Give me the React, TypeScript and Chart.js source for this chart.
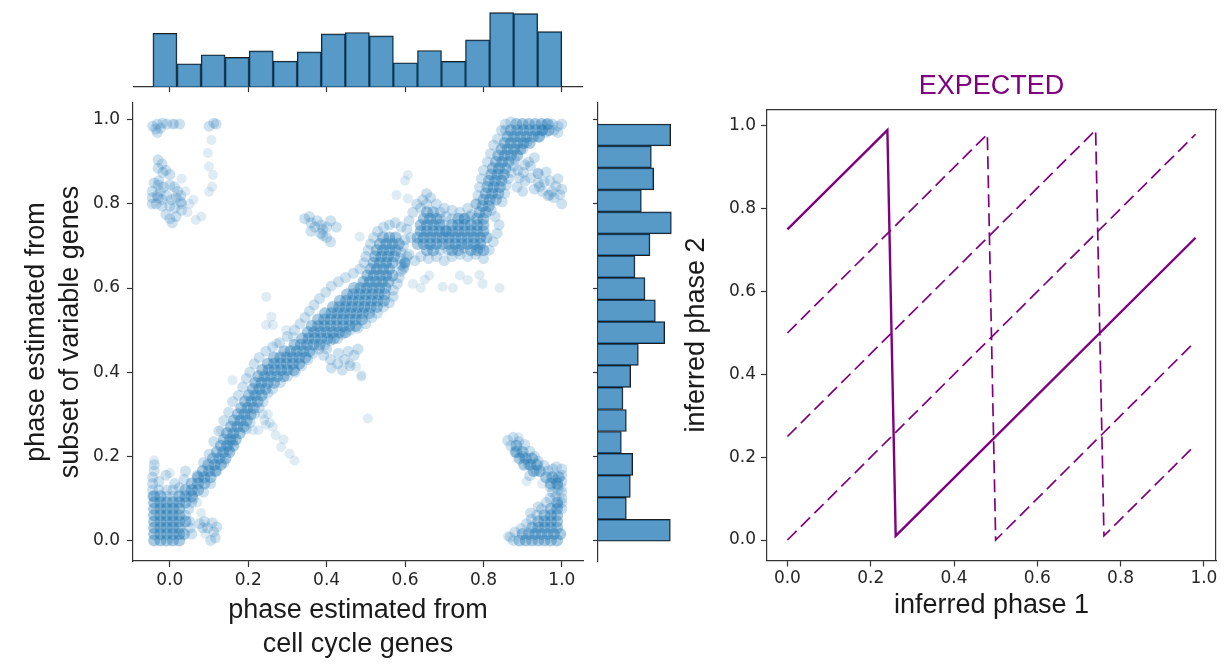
import React, { useEffect, useRef } from "react";
import { Chart, registerables } from "chart.js";

Chart.register(...registerables);
Chart.defaults.font.family = "'DejaVu Sans'";

const BLUE = "31,119,180";
const PURPLE = "#800080";
const INK = "#262626";
const SPINE = "#333333";
const LABEL_FONT = "'Liberation Sans'";

// ---- shared tick positions ----
const axisTicks = [0, 0.2, 0.4, 0.6, 0.8, 1.0];

// ---- marginal histogram: phase from cell cycle genes (top) ----
const topBinEdges = [-0.043, 0.018, 0.080, 0.141, 0.202, 0.264, 0.325, 0.386, 0.448, 0.509, 0.570, 0.632, 0.693, 0.754, 0.816, 0.877, 0.938, 1.000];
const topCounts = [162, 70, 97, 89, 109, 78, 106, 160, 164, 154, 73, 110, 77, 142, 224, 221, 167];

// ---- marginal histogram: phase from variable genes (right), bottom to top ----
const sideBinEdges = [-0.002, 0.050, 0.102, 0.155, 0.207, 0.259, 0.311, 0.364, 0.416, 0.468, 0.520, 0.572, 0.625, 0.677, 0.729, 0.781, 0.833, 0.886, 0.938, 0.990];
const sideCounts = [217, 85, 97, 104, 70, 85, 75, 98, 121, 200, 172, 141, 111, 156, 220, 130, 167, 160, 218];

// ---- cells: dense core, as rows of [phase (variable genes), phases (cell cycle genes)] ----
const denseRows: [number, number[]][] = [
  [0.000, [-0.040, -0.024, -0.008, 0.008, 0.024, 0.892, 0.908, 0.924, 0.940, 0.956, 0.972, 0.988]],
  [0.015, [-0.040, -0.024, -0.008, 0.008, 0.024, 0.036, 0.900, 0.916, 0.932, 0.948, 0.964, 0.980, 0.996]],
  [0.030, [-0.040, -0.024, -0.008, 0.008, 0.024, 0.924, 0.940, 0.956, 0.972, 0.988]],
  [0.045, [-0.040, -0.024, -0.008, 0.008, 0.024, 0.040, 0.940, 0.956, 0.972, 0.988]],
  [0.060, [-0.040, -0.024, -0.008, 0.008, 0.024, 0.956, 0.972, 0.988]],
  [0.075, [-0.040, -0.024, -0.008, 0.008, 0.024, 0.972, 0.988]],
  [0.090, [-0.040, -0.024, -0.008, 0.008, 0.024, 0.040, 0.988]],
  [0.105, [-0.040, -0.024, 0.024, 0.040, 0.056]],
  [0.120, [0.040, 0.056, 0.072]],
  [0.135, [0.056, 0.072, 0.088, 0.972, 0.988]],
  [0.150, [0.072, 0.088, 0.104, 0.960, 0.976, 0.992]],
  [0.165, [0.084, 0.100, 0.116, 0.928, 0.944]],
  [0.180, [0.098, 0.114, 0.130, 0.904, 0.920, 0.936]],
  [0.195, [0.110, 0.126, 0.142, 0.892, 0.908, 0.924]],
  [0.210, [0.120, 0.136, 0.152, 0.884, 0.900]],
  [0.225, [0.130, 0.146, 0.162, 0.884]],
  [0.240, [0.138, 0.154, 0.168]],
  [0.255, [0.146, 0.162, 0.178]],
  [0.270, [0.156, 0.172, 0.188]],
  [0.285, [0.164, 0.180, 0.196]],
  [0.300, [0.174, 0.190, 0.206]],
  [0.315, [0.182, 0.198, 0.214]],
  [0.330, [0.192, 0.208, 0.224]],
  [0.345, [0.202, 0.218, 0.234]],
  [0.360, [0.212, 0.228, 0.244]],
  [0.375, [0.218, 0.234, 0.250, 0.266]],
  [0.390, [0.226, 0.242, 0.258, 0.274, 0.290]],
  [0.405, [0.236, 0.252, 0.268, 0.284, 0.300, 0.316]],
  [0.420, [0.250, 0.266, 0.282, 0.298, 0.314, 0.330]],
  [0.435, [0.266, 0.282, 0.298, 0.314, 0.330, 0.346]],
  [0.450, [0.292, 0.308, 0.324, 0.340, 0.356]],
  [0.465, [0.318, 0.334, 0.350, 0.366, 0.382]],
  [0.480, [0.338, 0.354, 0.370, 0.386, 0.402, 0.418]],
  [0.495, [0.352, 0.368, 0.384, 0.400, 0.416, 0.432, 0.448]],
  [0.510, [0.362, 0.378, 0.394, 0.410, 0.426, 0.442, 0.458, 0.474]],
  [0.525, [0.378, 0.394, 0.410, 0.426, 0.442, 0.458, 0.474, 0.490]],
  [0.540, [0.396, 0.412, 0.428, 0.444, 0.460, 0.476, 0.492, 0.508]],
  [0.555, [0.416, 0.432, 0.448, 0.464, 0.480, 0.496, 0.512, 0.528]],
  [0.570, [0.434, 0.450, 0.466, 0.482, 0.498, 0.514, 0.530, 0.546]],
  [0.585, [0.452, 0.468, 0.484, 0.500, 0.516, 0.532, 0.548]],
  [0.600, [0.470, 0.486, 0.502, 0.518, 0.534, 0.550]],
  [0.615, [0.494, 0.510, 0.526, 0.542, 0.558]],
  [0.630, [0.504, 0.520, 0.536, 0.552, 0.568]],
  [0.645, [0.512, 0.528, 0.544, 0.560]],
  [0.660, [0.520, 0.536, 0.552, 0.568]],
  [0.675, [0.524, 0.540, 0.556, 0.572]],
  [0.690, [0.528, 0.544, 0.560, 0.576, 0.656, 0.672, 0.720, 0.736, 0.768, 0.784, 0.800]],
  [0.705, [0.536, 0.552, 0.568, 0.584, 0.632, 0.648, 0.664, 0.680, 0.696, 0.712, 0.728, 0.744, 0.760, 0.776, 0.792]],
  [0.720, [0.544, 0.560, 0.576, 0.632, 0.648, 0.664, 0.680, 0.696, 0.712, 0.728, 0.744, 0.760, 0.776, 0.792, 0.808]],
  [0.735, [0.640, 0.656, 0.672, 0.688, 0.704, 0.720, 0.736, 0.752, 0.768, 0.784, 0.800]],
  [0.750, [0.640, 0.656, 0.672, 0.688, 0.720, 0.736, 0.752, 0.768, 0.784, 0.800]],
  [0.765, [0.648, 0.664, 0.680, 0.736, 0.752, 0.784, 0.800]],
  [0.780, [0.656, 0.672, 0.790, 0.806]],
  [0.795, [0.798, 0.814]],
  [0.810, [0.800, 0.816, 0.832]],
  [0.825, [0.806, 0.822, 0.838]],
  [0.840, [0.810, 0.826, 0.842]],
  [0.855, [0.814, 0.830, 0.846]],
  [0.870, [0.820, 0.836, 0.852]],
  [0.885, [0.824, 0.840, 0.856]],
  [0.900, [0.832, 0.848, 0.864]],
  [0.915, [0.838, 0.854, 0.870, 0.886]],
  [0.930, [0.846, 0.862, 0.878, 0.894]],
  [0.945, [0.854, 0.870, 0.886, 0.902, 0.918]],
  [0.960, [0.862, 0.878, 0.894, 0.910, 0.926, 0.942]],
  [0.975, [0.870, 0.886, 0.902, 0.918, 0.934, 0.950, 0.966]],
  [0.990, [0.884, 0.900, 0.916, 0.932, 0.948, 0.964]],
];

// ---- cells: fringe around the dense core, [x, y] ----
const fringeCells: [number, number][] = [
  [-0.044, 0.105], [-0.044, 0.12], [-0.044, 0.135], [-0.044, 0.15], [-0.04, 0.165], [-0.04, 0.18], [-0.028, 0.12], [-0.028, 0.14],
  [-0.01, 0.155], [-0.008, 0.12], [0.008, 0.12], [0.012, 0.135], [0.024, 0.125], [-0.008, 0.105], [0.008, 0.105], [0.04, 0.06],
  [0.048, 0.075], [0.056, 0.09], [0.036, 0.145], [0.04, 0.165], [0.052, 0.03], [0.05, 0.045], [0.056, 0.015],
  [0.076, 0.04], [0.088, 0.045], [0.096, 0.03], [0.108, 0.042], [0.112, 0.02], [0.116, 0.006], [0.104, 0.0], [0.084, 0.03], [0.12, 0.032],
  [0.06, 0.1], [0.086, 0.115], [0.07, 0.155], [0.104, 0.135], [0.086, 0.185], [0.12, 0.165], [0.1, 0.205], [0.138, 0.185],
  [0.112, 0.235], [0.15, 0.215], [0.125, 0.26], [0.16, 0.235], [0.138, 0.285], [0.195, 0.265], [0.15, 0.305], [0.205, 0.28],
  [0.16, 0.33], [0.216, 0.3], [0.175, 0.345], [0.228, 0.315], [0.186, 0.365], [0.238, 0.33], [0.195, 0.385], [0.25, 0.35],
  [0.204, 0.4], [0.262, 0.36], [0.215, 0.42], [0.282, 0.375], [0.228, 0.435], [0.3, 0.39], [0.245, 0.45], [0.32, 0.4],
  [0.262, 0.46], [0.336, 0.415], [0.28, 0.47], [0.352, 0.43], [0.3, 0.485], [0.365, 0.445], [0.318, 0.5], [0.38, 0.455],
  [0.332, 0.515], [0.395, 0.465], [0.345, 0.53], [0.41, 0.475], [0.356, 0.545], [0.428, 0.48], [0.368, 0.56], [0.44, 0.49],
  [0.382, 0.575], [0.46, 0.5], [0.398, 0.59], [0.48, 0.505], [0.412, 0.605], [0.5, 0.515], [0.43, 0.615], [0.515, 0.53],
  [0.448, 0.625], [0.53, 0.54], [0.468, 0.635], [0.545, 0.555], [0.485, 0.645], [0.56, 0.565], [0.495, 0.66], [0.57, 0.58],
  [0.5, 0.675], [0.57, 0.595], [0.506, 0.69], [0.58, 0.61], [0.512, 0.705], [0.585, 0.625], [0.52, 0.72], [0.59, 0.64],
  [0.53, 0.735], [0.59, 0.655], [0.545, 0.745], [0.588, 0.67], [0.56, 0.75], [0.59, 0.685], [0.575, 0.755], [0.596, 0.7],
  [0.59, 0.745], [0.6, 0.715], [0.6, 0.66], [0.595, 0.645], [0.605, 0.675], [0.599, 0.659], [0.6, 0.662], [0.598, 0.65],
  [0.392, 0.44], [0.41, 0.43], [0.428, 0.42], [0.446, 0.43], [0.412, 0.41], [0.44, 0.405], [0.46, 0.415], [0.47, 0.44],
  [0.4, 0.455], [0.48, 0.455], [0.455, 0.45], [0.43, 0.445],
  [0.61, 0.68], [0.625, 0.665], [0.64, 0.675], [0.66, 0.67], [0.68, 0.675], [0.7, 0.665], [0.72, 0.675], [0.74, 0.68],
  [0.76, 0.675], [0.78, 0.68], [0.8, 0.67], [0.815, 0.69], [0.825, 0.71], [0.835, 0.73], [0.84, 0.75], [0.83, 0.77],
  [0.82, 0.785], [0.615, 0.72], [0.605, 0.74], [0.61, 0.76], [0.62, 0.78], [0.64, 0.79], [0.655, 0.8], [0.665, 0.815],
  [0.68, 0.8], [0.7, 0.79], [0.72, 0.785], [0.74, 0.78], [0.76, 0.79], [0.78, 0.8], [0.705, 0.77], [0.72, 0.765],
  [0.69, 0.78], [0.77, 0.775], [0.7, 0.75], [0.705, 0.735], [0.765, 0.77], [0.75, 0.765], [0.69, 0.765], [0.645, 0.81],
  [0.655, 0.825], [0.63, 0.8], [0.69, 0.69], [0.71, 0.69], [0.75, 0.695], [0.79, 0.695],
  [0.782, 0.8], [0.786, 0.82], [0.79, 0.84], [0.795, 0.86], [0.8, 0.88], [0.81, 0.9], [0.818, 0.92], [0.826, 0.94],
  [0.836, 0.955], [0.846, 0.975], [0.856, 0.99], [0.848, 0.805], [0.854, 0.825], [0.858, 0.845], [0.864, 0.86], [0.87, 0.875],
  [0.878, 0.89], [0.88, 0.905], [0.9, 0.93], [0.91, 0.945], [0.94, 0.96], [0.96, 0.97],
  [0.888, 0.88], [0.902, 0.875], [0.892, 0.862], [0.906, 0.855], [0.92, 0.862], [0.94, 0.85], [0.955, 0.852], [0.97, 0.855],
  [0.985, 0.842], [0.93, 0.835], [0.95, 0.83], [0.965, 0.82], [0.98, 0.815], [0.995, 0.822], [1.0, 0.8], [0.92, 0.89],
  [0.94, 0.872], [0.96, 0.876], [0.886, 0.84], [0.9, 0.83], [0.915, 0.9], [0.93, 0.91], [0.905, 0.893], [0.943, 0.841],
  [0.969, 0.821], [0.939, 0.873], [0.99, 0.86], [1.0, 0.835], [0.975, 0.83],
  [0.96, 0.99], [0.976, 0.99], [0.99, 0.985], [1.0, 0.99], [0.98, 0.975], [0.99, 0.97], [0.87, 0.995], [0.856, 0.975], [0.95, 0.975],
  [0.862, 0.238], [0.876, 0.245], [0.87, 0.225], [0.89, 0.235], [0.905, 0.228], [0.918, 0.212], [0.93, 0.2], [0.94, 0.188],
  [0.955, 0.178], [0.965, 0.165], [0.976, 0.17], [0.986, 0.175], [1.0, 0.17], [1.0, 0.155], [1.0, 0.14], [0.99, 0.13],
  [0.97, 0.128], [0.918, 0.154], [0.88, 0.21], [0.9, 0.2], [0.915, 0.18], [0.935, 0.165], [0.985, 0.145],
  [0.868, 0.008], [0.88, 0.02], [0.896, 0.028], [0.91, 0.04], [0.922, 0.05], [0.936, 0.06], [0.948, 0.075], [0.96, 0.09],
  [0.97, 0.1], [0.985, 0.105], [1.0, 0.1], [1.0, 0.115], [0.99, 0.12], [0.976, 0.115], [0.876, 0.0], [0.92, 0.065], [0.94, 0.08],
  [1.0, 0.075], [0.99, 0.085], [1.0, 0.09],
  [-0.044, 0.985], [-0.032, 0.99], [-0.024, 0.98], [-0.018, 0.992], [-0.032, 0.97], [-0.008, 0.99], [0.008, 0.99], [0.025, 0.99],
  [-0.036, 0.978], [0.1, 0.985], [0.112, 0.992], [0.118, 0.99],
  [-0.03, 0.905], [-0.02, 0.895], [-0.03, 0.885], [-0.018, 0.875], [-0.01, 0.88], [0.0, 0.87], [-0.04, 0.85], [-0.028, 0.855],
  [-0.03, 0.845], [-0.016, 0.84], [0.0, 0.845], [0.012, 0.84], [0.02, 0.83], [-0.045, 0.83], [-0.045, 0.815], [-0.045, 0.8],
  [-0.032, 0.82], [-0.02, 0.81], [-0.008, 0.82], [0.004, 0.81], [0.016, 0.815], [0.028, 0.82], [0.03, 0.8], [0.03, 0.785],
  [0.012, 0.79], [0.0, 0.795], [-0.02, 0.795], [-0.035, 0.8], [-0.01, 0.775], [0.0, 0.765], [0.016, 0.77], [0.006, 0.755],
  [-0.03, 0.815], [-0.024, 0.83], [0.028, 0.805],
  [0.344, 0.765], [0.356, 0.77], [0.36, 0.755], [0.37, 0.745], [0.376, 0.76], [0.386, 0.75], [0.39, 0.74], [0.4, 0.745],
  [0.385, 0.73], [0.41, 0.76], [0.425, 0.745], [0.36, 0.735], [0.4, 0.72], [0.41, 0.71], [0.39, 0.725],
];

// ---- cells: isolated outliers, [x, y] ----
const outlierCells: [number, number][] = [
  [0.16, 0.381], [0.505, 0.29], [0.475, 0.413], [0.488, 0.389], [0.246, 0.579], [0.259, 0.532], [0.246, 0.512], [0.263, 0.512],
  [0.297, 0.5], [0.314, 0.484], [0.272, 0.468], [0.484, 0.722], [0.459, 0.421], [0.489, 0.393],
  [0.62, 0.61], [0.662, 0.63], [0.696, 0.603], [0.722, 0.6], [0.76, 0.619], [0.798, 0.61], [0.841, 0.6], [0.79, 0.631],
  [0.64, 0.6], [0.65, 0.62], [0.74, 0.63],
  [0.607, 0.869], [0.578, 0.821], [0.607, 0.813], [0.6, 0.855],
  [0.241, 0.286], [0.255, 0.28], [0.263, 0.27], [0.237, 0.3], [0.25, 0.3], [0.27, 0.25], [0.284, 0.222], [0.29, 0.24],
  [0.305, 0.206], [0.318, 0.19], [0.226, 0.262], [0.212, 0.262], [0.131, 0.262], [0.245, 0.275],
  [0.106, 0.952], [0.097, 0.921], [0.1, 0.889], [0.11, 0.869], [0.108, 0.841], [0.1, 0.829], [0.04, 0.83], [0.05, 0.8],
  [0.08, 0.77], [0.066, 0.762], [0.045, 0.78], [0.06, 0.81], [0.03, 0.86], [0.012, 0.99],
  [0.07, 0.09], [0.08, 0.065], [0.064, 0.115], [-0.04, 0.19], [0.0, 0.16], [0.09, 0.015],
  [0.89, 0.245], [0.91, 0.14], [0.95, 0.135], [1.0, 0.125], [0.862, 0.01],
];

// ---- expected relationship between the two inferred phases ----
const expectedSolid: [number, number][] = [[0, 0.75], [0.24, 0.99], [0.26, 0.01], [0.98, 0.73]];
const expectedHalfShift: [number, number][] = [[0, 0.5], [0.48, 0.98], [0.5, 0.0], [0.97, 0.47]];
const expectedQuarterShift: [number, number][] = [[0, 0.25], [0.74, 0.99], [0.76, 0.01], [0.97, 0.22]];
const expectedIdentity: [number, number][] = [[0, 0], [0.98, 0.98]];

// ---- helpers ----
const toXY = (pts: [number, number][]) => pts.map(([x, y]) => ({ x, y }));
const centers = (edges: number[]) => edges.slice(1).map((e, i) => (edges[i] + e) / 2);
const setTicks = (scale: any) => {
  scale.ticks = axisTicks.map((v) => ({ value: v }));
};
const tickFmt = (v: any) => Number(v).toFixed(1);

const cellStyle = (alpha: number, radius: number) => ({
  pointRadius: radius,
  pointHoverRadius: radius,
  pointBackgroundColor: `rgba(${BLUE},${alpha})`,
  pointBorderWidth: 0,
});

const histStyle = {
  backgroundColor: `rgba(${BLUE},0.75)`,
  borderColor: "#1e1e1e",
  borderWidth: 1,
  barThickness: "flex" as const,
  barPercentage: 1,
  categoryPercentage: 1,
};

const quiet = { legend: { display: false }, tooltip: { enabled: false } };

const SCATTER_X = { min: -0.094, max: 1.054 };
const SCATTER_Y = { min: -0.049, max: 1.04 };

const tickAxisGrid = {
  display: true,
  offset: false,
  drawOnChartArea: false,
  drawTicks: true,
  tickLength: 6,
  color: SPINE,
  tickColor: SPINE,
  tickWidth: 1.2,
};
const spine = { display: true, color: SPINE, width: 1.2 };
const labelFont = { family: LABEL_FONT, size: 27, lineHeight: 1.28 };
const tickFont = { family: "'DejaVu Sans'", size: 17 };

function scatterConfig(): any {
  return {
    type: "scatter",
    data: {
      datasets: [
        { data: denseRows.flatMap(([y, xs]) => xs.map((x) => ({ x, y }))), ...cellStyle(0.38, 6) },
        { data: toXY(fringeCells), ...cellStyle(0.22, 5.5) },
        { data: toXY(outlierCells), ...cellStyle(0.14, 5) },
      ],
    },
    options: {
      animation: false,
      responsive: false,
      events: [],
      layout: { padding: { top: 103, right: 7, left: 0, bottom: 0 } },
      plugins: quiet,
      scales: {
        x: {
          type: "linear",
          ...SCATTER_X,
          afterBuildTicks: setTicks,
          afterFit: (s: any) => { s.height = 104; },
          ticks: { font: tickFont, color: INK, padding: 3, maxRotation: 0, callback: tickFmt },
          grid: tickAxisGrid,
          border: spine,
          title: {
            display: true,
            text: ["phase estimated from", "cell cycle genes"],
            font: labelFont,
            color: "#1a1a1a",
            padding: { top: 0, bottom: 3 },
          },
        },
        y: {
          type: "linear",
          ...SCATTER_Y,
          afterBuildTicks: setTicks,
          afterFit: (s: any) => { s.width = 133; },
          ticks: { font: tickFont, color: INK, padding: 7, callback: tickFmt },
          grid: tickAxisGrid,
          border: spine,
          title: {
            display: true,
            text: ["phase estimated from", "subset of variable genes"],
            font: labelFont,
            color: "#1a1a1a",
            padding: { top: 19, bottom: 0 },
          },
        },
      },
    },
  };
}

function topHistConfig(): any {
  const c = centers(topBinEdges);
  return {
    type: "bar",
    data: { datasets: [{ data: c.map((x, i) => ({ x, y: topCounts[i] })), ...histStyle }] },
    options: {
      animation: false,
      responsive: false,
      events: [],
      layout: { padding: 0 },
      plugins: quiet,
      scales: {
        x: {
          type: "linear",
          offset: false,
          ...SCATTER_X,
          afterBuildTicks: setTicks,
          afterFit: (s: any) => { s.height = 13; },
          ticks: { display: false },
          grid: { ...tickAxisGrid, tickLength: 5 },
          border: spine,
        },
        y: { display: false, min: 0, max: 262 },
      },
    },
  };
}

function sideHistConfig(): any {
  const c = centers(sideBinEdges);
  return {
    type: "bar",
    data: { datasets: [{ data: c.map((y, i) => ({ y, x: sideCounts[i] })), ...histStyle }] },
    options: {
      indexAxis: "y",
      animation: false,
      responsive: false,
      events: [],
      layout: { padding: { top: 103, bottom: 104, right: 5, left: 0 } },
      plugins: quiet,
      scales: {
        y: {
          type: "linear",
          offset: false,
          ...SCATTER_Y,
          afterBuildTicks: setTicks,
          afterFit: (s: any) => { s.width = 8; },
          ticks: { display: false },
          grid: { ...tickAxisGrid, tickLength: 5 },
          border: spine,
        },
        x: { display: false, min: 0, max: 231 },
      },
    },
  };
}

function expectedConfig(): any {
  const line = (pts: [number, number][], dashed: boolean) => ({
    data: toXY(pts),
    showLine: true,
    pointRadius: 0,
    borderColor: PURPLE,
    borderWidth: dashed ? 1.7 : 2.4,
    borderDash: dashed ? [13, 6] : [],
    tension: 0,
  });
  const X = { min: -0.049, max: 1.029 };
  const Y = { min: -0.0495, max: 1.0395 };
  const frame = {
    type: "linear",
    display: true,
    ticks: { display: false },
    grid: { display: false, drawTicks: false },
    border: spine,
  };
  return {
    type: "scatter",
    data: {
      datasets: [
        line(expectedSolid, false),
        line(expectedHalfShift, true),
        line(expectedQuarterShift, true),
        line(expectedIdentity, true),
      ],
    },
    options: {
      animation: false,
      responsive: false,
      events: [],
      layout: { padding: { top: 0, right: 11, left: 0, bottom: 0 } },
      plugins: {
        ...quiet,
        title: {
          display: true,
          fullSize: false,
          text: "EXPECTED",
          color: PURPLE,
          font: { family: LABEL_FONT, size: 27, weight: "normal", lineHeight: 1.2 },
          padding: { top: 70.8, bottom: 6.4 },
        },
      },
      scales: {
        x: {
          type: "linear",
          ...X,
          afterBuildTicks: setTicks,
          afterFit: (s: any) => { s.height = 104.5; },
          ticks: { font: tickFont, color: INK, padding: 2, maxRotation: 0, callback: tickFmt },
          grid: tickAxisGrid,
          border: spine,
          title: { display: true, text: "inferred phase 1", font: labelFont, color: "#1a1a1a", padding: { top: 0, bottom: 41.7 } },
        },
        y: {
          type: "linear",
          ...Y,
          afterBuildTicks: setTicks,
          afterFit: (s: any) => { s.width = 107; },
          ticks: { font: tickFont, color: INK, padding: 5, callback: tickFmt },
          grid: tickAxisGrid,
          border: spine,
          title: { display: true, text: "inferred phase 2", font: labelFont, color: "#1a1a1a", padding: { top: 19.7, bottom: 0 } },
        },
        xTop: { ...frame, position: "top", ...X, afterFit: (s: any) => { s.height = 0; } },
        yRight: { ...frame, position: "right", ...Y, afterFit: (s: any) => { s.width = 0; } },
      },
    },
  };
}

type Box = { left: number; top: number; width: number; height: number };

function Panel({ box, config }: { box: Box; config: () => any }) {
  const ref = useRef<HTMLCanvasElement | null>(null);
  useEffect(() => {
    const chart = new Chart(ref.current as HTMLCanvasElement, config());
    return () => chart.destroy();
  }, []);
  return (
    <div style={{ position: "absolute", left: box.left, top: box.top, width: box.width, height: box.height }}>
      <canvas
        ref={ref}
        width={box.width}
        height={box.height}
        style={{ display: "block", width: box.width, height: box.height }}
      />
    </div>
  );
}

export default function App() {
  return (
    <div style={{ position: "absolute", left: 0, top: 0, width: 1227, height: 665, background: "#ffffff", overflow: "hidden" }}>
      <Panel box={{ left: 0, top: 0, width: 590, height: 665 }} config={scatterConfig} />
      <Panel box={{ left: 133, top: 0, width: 450, height: 100 }} config={topHistConfig} />
      <Panel box={{ left: 590, top: 0, width: 90, height: 665 }} config={sideHistConfig} />
      <Panel box={{ left: 660, top: 0, width: 567, height: 665 }} config={expectedConfig} />
    </div>
  );
}
